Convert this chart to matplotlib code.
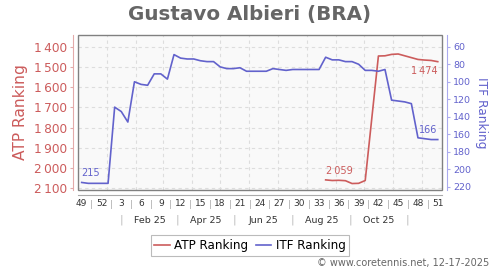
import datetime as dt
import matplotlib
matplotlib.use('Agg')
import matplotlib.pyplot as plt
import matplotlib.dates as mdates
from matplotlib.patches import Rectangle
from matplotlib.lines import Line2D
from matplotlib.transforms import blended_transform_factory

# weekly rankings (ISO year, week)
itf_weeks = [(2024, 49), (2024, 50), (2024, 51), (2024, 52)] + [(2025, w) for w in range(1, 52)]
itf_rank = [215, 216, 216, 216, 216, 129, 134, 146, 100, 103, 104, 91, 91, 97, 69,
            73, 74, 74, 76, 77, 77, 83, 85, 85, 84, 88, 88, 88, 88, 85, 86, 87, 86,
            86, 86, 86, 86, 72, 75, 75, 77, 77, 80, 87, 87, 88, 86, 121, 122, 123,
            125, 164, 165, 166, 166]
atp_weeks = [34, 35, 36, 37, 38, 39, 40, 42, 43, 44, 45, 46, 47, 48, 49, 50, 51]
atp_rank = [2059, 2062, 2061, 2063, 2077, 2076, 2062, 1446, 1445, 1438, 1436, 1445,
            1454, 1463, 1466, 1468, 1474]

atp_ticks = [1400, 1500, 1600, 1700, 1800, 1900, 2000, 2100]
itf_ticks = [60, 80, 100, 120, 140, 160, 180, 200, 220]
month_labels = ['Feb 25', 'Apr 25', 'Jun 25', 'Aug 25', 'Oct 25']

RED = '#cc5c5c'
BLUE = '#6262cc'

def thu(y, w):
    return dt.date.fromisocalendar(y, w, 4)

def fmt(v):
    return f'{v:,}'.replace(',', '\u2009')

itf_x = mdates.date2num([thu(y, w) for y, w in itf_weeks])
atp_x = mdates.date2num([thu(2025, w) for w in atp_weeks])

fig = plt.figure(figsize=(5, 2.7), dpi=100)
ax = fig.add_axes([0.156, 0.2963, 0.7274, 0.5741])
ax2 = ax.twinx()
ax.set_facecolor('#f9f9f9')

ax.plot(atp_x, atp_rank, color=RED, lw=1.2, zorder=3)
ax2.plot(itf_x, itf_rank, color=BLUE, lw=1.2, zorder=3)

step = itf_x[1] - itf_x[0]
ax.set_xlim(itf_x[0] - 0.56 * step, itf_x[-1] + 0.6 * step)
ax.set_ylim(2109, 1342)
ax2.set_ylim(223.6, 46.6)

# frame + offset spines
for s in ax.spines.values():
    s.set_visible(False)
for s in ax2.spines.values():
    s.set_visible(False)
ax.add_patch(Rectangle((0, 0), 1, 1, transform=ax.transAxes, fill=False,
                       edgecolor='#808080', lw=1, clip_on=False, zorder=5))
ax.spines['left'].set_visible(True)
ax.spines['left'].set_position(('outward', 3.6))
ax.spines['left'].set_color('#e3aaaa')
ax.spines['bottom'].set_visible(True)
ax.spines['bottom'].set_position(('outward', 3.6))
ax.spines['bottom'].set_color('#aaaaaa')
ax2.spines['right'].set_visible(True)
ax2.spines['right'].set_position(('outward', 3.6))
ax2.spines['right'].set_color('#aaaaee')

ax.set_yticks(atp_ticks, [fmt(v) for v in atp_ticks])
ax.tick_params(axis='y', colors='#e3aaaa', labelcolor=RED, labelsize=8.7, length=2.5, pad=2)
ax2.set_yticks(itf_ticks, [str(v) for v in itf_ticks])
ax2.tick_params(axis='y', colors='#aaaaee', labelcolor=BLUE, labelsize=6.8, length=2.5, pad=2)
ax.set_ylabel('ATP Ranking', color=RED, fontsize=11.2, labelpad=4)
ax2.set_ylabel('ITF Ranking', color=BLUE, fontsize=8.7, rotation=270, labelpad=12)

# week ticks with separators
ax.set_xticks(itf_x[::3], [str(w) for y, w in itf_weeks[::3]])
ax.set_xticks(itf_x[1:-1:3] + step / 2, ['|'] * len(itf_x[1:-1:3]), minor=True)
ax.tick_params(axis='x', which='major', length=0, pad=3, labelsize=6.5, labelcolor='#333333')
ax.tick_params(axis='x', which='minor', length=0, pad=3.5, labelsize=5.5, labelcolor='#999999')

# grid
ax.yaxis.grid(True, color='#dddddd', ls=(0, (3, 3)), lw=0.8)
for m in range(1, 13):
    ax.axvline(mdates.date2num(dt.date(2025, m, 1)), color='#dddddd', ls=(0, (3, 3)), lw=0.8, zorder=1)

# month row
tr = blended_transform_factory(ax.transData, ax.transAxes)
def mid(m):
    a = dt.date(2025, m, 1)
    b = dt.date(2025 + m // 12, m % 12 + 1, 1)
    return mdates.date2num(a) + (b - a).days / 2
for i, lab in enumerate(month_labels):
    ax.text(mid(2 * i + 2), -0.194, lab, transform=tr, ha='center', va='center',
            fontsize=6.8, color='#333333')
for m in (1, 3, 5, 7, 9, 11):
    ax.text(mid(m), -0.194, '|', transform=tr, ha='center', va='center',
            fontsize=8, color='#bbbbbb')

# end labels
ax2.annotate(str(itf_rank[0]), (itf_x[0], itf_rank[0]), xytext=(0, 3), textcoords='offset points',
             ha='left', va='bottom', fontsize=7, color=BLUE)
ax2.annotate(str(itf_rank[-1]), (itf_x[-1], itf_rank[-1]), xytext=(0, 3), textcoords='offset points',
             ha='right', va='bottom', fontsize=7, color=BLUE)
ax.annotate(fmt(atp_rank[0]), (atp_x[0], atp_rank[0]), xytext=(0, 3), textcoords='offset points',
            ha='left', va='bottom', fontsize=7, color=RED)
ax.annotate(fmt(atp_rank[-1]), (atp_x[-1], atp_rank[-1]), xytext=(0, -3), textcoords='offset points',
            ha='right', va='top', fontsize=7, color=RED)

fig.text(0.499, 0.948, 'Gustavo Albieri (BRA)', ha='center', va='center',
         fontsize=14.3, fontweight='bold', color='#666666')

handles = [Line2D([], [], color=RED, lw=1.2), Line2D([], [], color=BLUE, lw=1.2)]
leg = fig.legend(handles, ['ATP Ranking', 'ITF Ranking'], loc='center', bbox_to_anchor=(0.5, 0.091),
                 ncol=2, fontsize=8.6, frameon=True, fancybox=False, edgecolor='#aaaaaa',
                 handlelength=1.3, handletextpad=0.4, columnspacing=0.6, borderpad=0.3,
                 borderaxespad=0.2)
leg.get_frame().set_linewidth(0.8)

fig.text(0.978, 0.025, '\u00a9 www.coretennis.net, 12-17-2025', ha='right', va='center',
         fontsize=7, color='#666666')

fig.savefig('out.png', dpi=100)
